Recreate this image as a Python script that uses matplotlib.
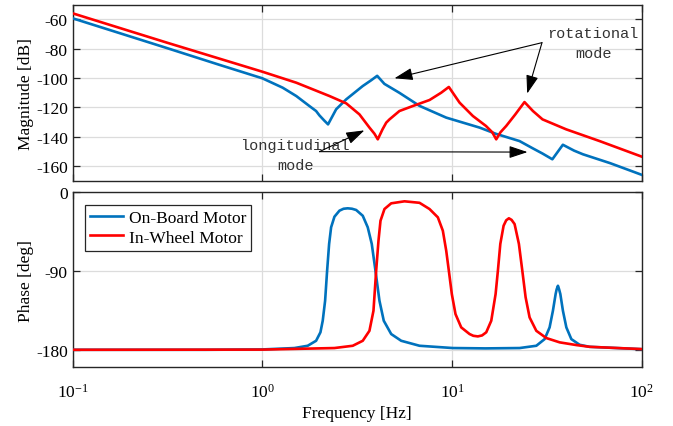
import matplotlib
matplotlib.use("Agg")
import matplotlib.pyplot as plt
from matplotlib.ticker import FixedLocator, FixedFormatter, NullLocator

# ---------------- data ----------------
blue_mag_f = [0.1, 0.316, 0.6, 1.0, 1.28, 1.51, 1.77, 1.92, 2.0, 2.12, 2.22, 2.32, 2.45,
              2.77, 3.38, 3.75, 4.03, 4.4, 5.28, 6.74, 9.32, 13.97, 17.0, 22.7,
              26.7, 30.0, 33.8, 38.4, 44.0, 49.0, 68.0, 100.0]
blue_mag_db = [-59.3, -79.7, -91.2, -100.2, -106.6, -112.3, -119.1, -122.5, -125.5, -129.0,
               -131.6, -127.0, -121.3, -114.5, -105.5, -101.5, -98.5, -104.0, -110.1, -119.0,
               -127.0, -133.8, -138.0, -143.0, -148.0, -151.5, -155.4,
               -145.5, -149.5, -152.0, -158.0, -166.0]

red_mag_f = [0.1, 0.316, 1.0, 1.51, 2.26, 2.77, 3.25, 3.67, 3.9, 4.06, 4.3, 4.5, 4.68, 5.28,
             6.21, 7.61, 8.77, 9.62, 10.96, 12.88, 15.1, 16.3, 17.1, 18.0, 19.3, 21.5, 24.1,
             26.7, 30.0, 40.0, 60.0, 100.0]
red_mag_db = [-55.9, -76.0, -95.7, -103.2, -112.3, -117.3, -124.8, -133.8, -138.0, -141.8,
              -135.0, -130.4, -128.2, -122.5, -119.1, -115.0, -110.0, -106.1, -116.8, -125.9,
              -132.7, -137.0, -141.8, -137.0, -132.7, -125.0, -116.4, -122.5, -128.2, -135.0,
              -143.0, -153.6]

blue_ph_f = [0.1, 0.5, 1.0, 1.475, 1.734, 1.920, 2.024, 2.081, 2.142, 2.195, 2.249, 2.304,
             2.399, 2.549, 2.68, 2.818, 2.97, 3.122, 3.383, 3.594, 3.774, 3.947, 4.144, 4.366,
             4.778, 5.395, 6.738, 10.10, 15.0, 22.71, 27.82, 30.77, 32.69, 34.03, 35.17,
             35.6, 36.17, 36.7, 37.24, 38.43, 40.06, 42.56, 47.08, 53.15, 100.0]
blue_ph_deg = [-180.0, -180.0, -179.6, -178.0, -175.4, -169.7, -160.0, -146.8, -124.0, -89.6,
               -59.0, -40.0, -27.9, -21.0, -18.8, -18.3, -18.8, -20.2, -26.8, -40.0, -59.0,
               -89.6, -124.0, -146.8, -162.0, -169.7, -175.4, -178.0, -178.4, -178.0, -175.4,
               -167.8, -154.4, -135.4, -116.3, -111.0, -106.8, -111.0, -116.3, -135.4,
               -154.4, -167.8, -174.3, -176.6, -179.3]

red_ph_f = [0.1, 1.0, 2.399, 2.996, 3.383, 3.669, 3.853, 3.981, 4.095, 4.196, 4.404, 4.778,
            5.615, 6.738, 7.608, 8.418, 8.944, 9.320, 9.619, 9.975, 10.43, 11.18, 12.37,
            12.95, 13.68, 14.4, 15.15, 16.10, 16.97, 17.45, 17.97, 18.70, 19.3, 19.94, 20.6,
            21.37, 22.52, 23.47, 24.43, 25.64, 27.82, 31.42, 36.93, 45.23, 53.15, 100.0]
red_ph_deg = [-180.0, -179.8, -178.0, -175.4, -169.7, -158.3, -135.4, -89.6, -55.3, -32.5,
              -19.1, -12.6, -10.3, -12.0, -19.1, -28.6, -43.9, -66.8, -89.6, -116.3, -139.2,
              -154.4, -162.0, -164.0, -164.7, -163.6, -160.0, -146.8, -116.3, -89.6, -59.0,
              -38.2, -32.0, -29.7, -31.5, -36.3, -59.0, -89.6, -120.0, -143.0, -158.3,
              -166.6, -171.5, -174.6, -176.6, -179.2]

series_names = ["On-Board Motor", "In-Wheel Motor"]
mag_ticks = [-160, -140, -120, -100, -80, -60]
phase_ticks = [-180, -90, 0]
freq_ticks = [0.1, 1, 10, 100]
freq_tick_labels = ["$10^{-1}$", "$10^{0}$", "$10^{1}$", "$10^{2}$"]

# ---------------- style ----------------
plt.rcParams.update({
    "font.family": ["Liberation Serif", "DejaVu Serif"],
    "mathtext.fontset": "custom",
    "mathtext.rm": "Liberation Serif",
    "mathtext.it": "Liberation Serif:italic",
    "mathtext.bf": "Liberation Serif:bold",
    "axes.unicode_minus": False,
    "font.size": 12.5,
})
BLUE = "#0072BD"
RED = "#FF0000"
LW = 1.9

fig = plt.figure(figsize=(6.73, 4.27), dpi=100)
ax1 = fig.add_axes([0.108, 0.5745, 0.8455, 0.4122])
ax2 = fig.add_axes([0.108, 0.1375, 0.8455, 0.4098])

for ax in (ax1, ax2):
    ax.set_xscale("log")
    ax.set_xlim(0.1, 100)
    ax.xaxis.set_major_locator(FixedLocator(freq_ticks))
    ax.xaxis.set_minor_locator(NullLocator())
    ax.grid(True, color="#dcdcdc", linewidth=0.9)
    ax.set_axisbelow(True)
    ax.tick_params(direction="in", top=True, right=True, length=5, width=0.9,
                   colors="#262626", labelcolor="black", labelsize=12.5)
    for s in ax.spines.values():
        s.set_linewidth(1.0)
        s.set_color("#262626")

ax1.plot(blue_mag_f, blue_mag_db, color=BLUE, lw=LW, zorder=3)
ax1.plot(red_mag_f, red_mag_db, color=RED, lw=LW, zorder=3)
ax1.set_ylim(-170, -50)
ax1.yaxis.set_major_locator(FixedLocator(mag_ticks))
ax1.set_xticklabels([])
ax1.set_ylabel("Magnitude [dB]", fontsize=12.5)
ax1.yaxis.set_label_coords(-0.068, 0.5)

ax2.plot(blue_ph_f, blue_ph_deg, color=BLUE, lw=LW, label=series_names[0], zorder=3)
ax2.plot(red_ph_f, red_ph_deg, color=RED, lw=LW, label=series_names[1], zorder=3)
ax2.set_ylim(-200, 0)
ax2.yaxis.set_major_locator(FixedLocator(phase_ticks))
ax2.xaxis.set_major_formatter(FixedFormatter(freq_tick_labels))
ax2.tick_params(axis="x", pad=11)
ax2.set_ylabel("Phase [deg]", fontsize=12.5)
ax2.yaxis.set_label_coords(-0.068, 0.5)
ax2.set_xlabel("Frequency [Hz]", fontsize=12.5, labelpad=3)

leg = ax2.legend(loc="upper left", bbox_to_anchor=(0.022, 0.93), fancybox=False,
                 edgecolor="#262626", framealpha=1, fontsize=12.5, handlelength=1.9,
                 handletextpad=0.3, borderpad=0.3, labelspacing=0.2, borderaxespad=0)
leg.get_frame().set_linewidth(0.9)

# ---------------- annotations ----------------
mono = dict(family=["Liberation Mono", "DejaVu Sans Mono"], fontsize=11, color="#333333",
            ha="center", va="center", multialignment="center", linespacing=1.55)
arrow = dict(arrowstyle="-|>,head_length=0.9,head_width=0.3", color="black", lw=0.8,
             shrinkA=0, shrinkB=0)

ax1.text(55.5, -76.4, "rotational\nmode", **mono)
ax1.annotate("", xy=(4.97, -100.2), xytext=(29.8, -75.9), arrowprops=arrow)
ax1.annotate("", xy=(24.9, -110.6), xytext=(29.8, -75.9), arrowprops=arrow)

ax1.text(1.49, -152.5, "longitudinal\nmode", **mono)
ax1.annotate("", xy=(3.45, -135.7), xytext=(2.0, -150.2), arrowprops=arrow)
ax1.annotate("", xy=(25.0, -150.5), xytext=(2.0, -150.2), arrowprops=arrow)

fig.savefig("out.png", dpi=100)
